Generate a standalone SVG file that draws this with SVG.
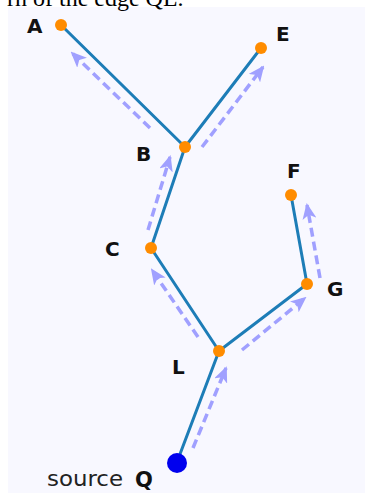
<svg xmlns="http://www.w3.org/2000/svg" width="365" height="493" viewBox="0 0 365 493">
<style>
.edge{stroke:#1d7db7;stroke-width:3;fill:none;stroke-linecap:round}
.flow{stroke:#a0a0ff;stroke-width:3.5;fill:none;stroke-dasharray:9 5}
.dot{fill:#ff8c00}
.lbl{font-family:"DejaVu Sans","Liberation Sans",sans-serif;font-weight:bold;font-size:20px;fill:#111}
.src{font-family:"DejaVu Sans","Liberation Sans",sans-serif;font-size:21px;fill:#222}
</style>
<defs>
<marker id="ah" viewBox="0 0 16 14" refX="14" refY="7" markerWidth="16" markerHeight="14" markerUnits="userSpaceOnUse" orient="auto">
<path d="M0,0 L16,7 L0,14 L4,7 z" fill="#a0a0ff"/>
</marker>
</defs>
<rect x="0" y="0" width="365" height="493" fill="#ffffff"/>
<rect x="8" y="7" width="357" height="486" fill="#f8f8ff"/>
<text x="7" y="6" font-family="Liberation Serif,serif" font-size="24" fill="#000">rn of the edge QL.</text>
<g id="connectors">
<line class="edge" x1="61" y1="25" x2="185" y2="147"/>
<line class="edge" x1="261" y1="48" x2="185" y2="147"/>
<line class="edge" x1="185" y1="147" x2="151" y2="248"/>
<line class="edge" x1="151" y1="248" x2="219" y2="351"/>
<line class="edge" x1="219" y1="351" x2="307" y2="284"/>
<line class="edge" x1="307" y1="284" x2="291" y2="195"/>
<line class="edge" x1="219" y1="351" x2="177" y2="462"/>
<line class="flow" x1="193" y1="448" x2="226" y2="368" marker-end="url(#ah)"/>
<line class="flow" x1="198" y1="337" x2="152" y2="270" marker-end="url(#ah)"/>
<line class="flow" x1="148" y1="230" x2="170" y2="157" marker-end="url(#ah)"/>
<line class="flow" x1="150" y1="128" x2="72" y2="53" marker-end="url(#ah)"/>
<line class="flow" x1="202" y1="147" x2="263" y2="67" marker-end="url(#ah)"/>
<line class="flow" x1="242" y1="350" x2="305" y2="298" marker-end="url(#ah)"/>
<line class="flow" x1="320" y1="278" x2="307" y2="205" marker-end="url(#ah)"/>
</g>
<g id="A"><circle class="dot" cx="61" cy="25" r="6"/><text class="lbl" x="27" y="33">A</text></g>
<g id="E"><circle class="dot" cx="261" cy="48" r="6"/><text class="lbl" x="276" y="41">E</text></g>
<g id="B"><circle class="dot" cx="185" cy="147" r="6"/><text class="lbl" x="136" y="161">B</text></g>
<g id="C"><circle class="dot" cx="151" cy="248" r="6"/><text class="lbl" x="105" y="256">C</text></g>
<g id="F"><circle class="dot" cx="291" cy="195" r="6"/><text class="lbl" x="287" y="178">F</text></g>
<g id="G"><circle class="dot" cx="307" cy="284" r="6"/><text class="lbl" x="327" y="296">G</text></g>
<g id="L"><circle class="dot" cx="219" cy="351" r="6"/><text class="lbl" x="172" y="374">L</text></g>
<g id="Q"><circle cx="177" cy="463" r="10" fill="#0000ee"/><text class="src" x="47" y="486" textLength="76" lengthAdjust="spacingAndGlyphs">source</text><text class="lbl" x="135" y="487" style="font-size:21px">Q</text></g>
</svg>
